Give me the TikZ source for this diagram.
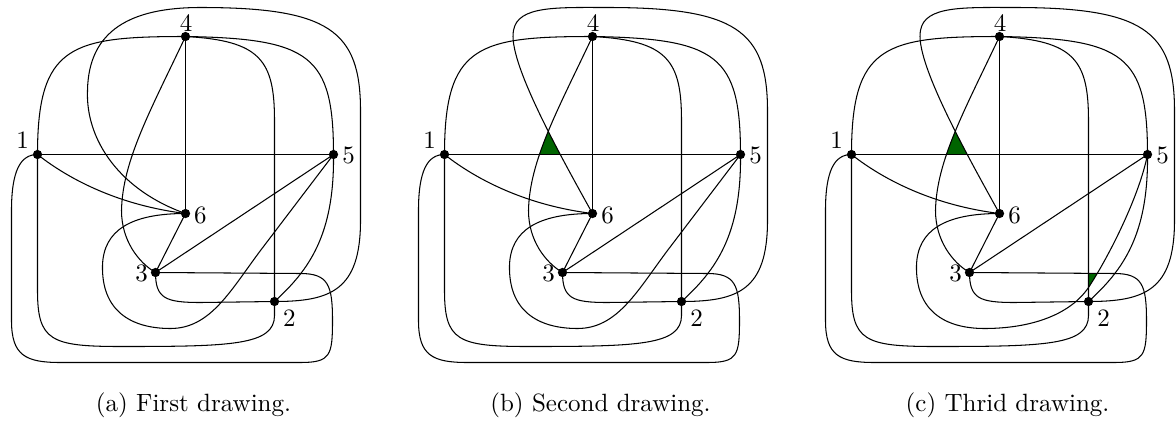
\documentclass[tikz,border=0pt]{standalone}
\usepackage{tikz}
\definecolor{tri}{RGB}{0,100,0}
\tikzset{
  vdot/.style={circle,fill=black,inner sep=0pt,minimum size=3.7pt},
  vlab/.style={inner sep=0pt},
  gedge/.style={draw=black,line width=0.42pt},
  subcap/.style={anchor=base,inner sep=0pt},
}
% nodes of one drawing, prefix #1
\newcommand{\gnodes}[1]{%
  \node[vdot] (#1-1) at (37,154) {};
  \node[vdot] (#1-4) at (185,36) {};
  \node[vdot] (#1-5) at (333,154) {};
  \node[vdot] (#1-6) at (185,213) {};
  \node[vdot] (#1-3) at (155,272) {};
  \node[vdot] (#1-2) at (274,301) {};
  \node[vlab] (#1-l1) at (22,140) {1};
  \node[vlab] (#1-l4) at (185.5,23) {4};
  \node[vlab] (#1-l5) at (348,155) {5};
  \node[vlab] (#1-l6) at (200,215) {6};
  \node[vlab] (#1-l3) at (141,273) {3};
  \node[vlab] (#1-l2) at (289,318) {2};
}
% edges common to all drawings
\newcommand{\gcommon}[1]{%
  \draw[gedge] (#1-1.center) -- (#1-5.center);
  \draw[gedge] (#1-1.center) .. controls (37,45) and (70,36) .. (#1-4.center);
  \draw[gedge] (#1-1.center) .. controls (70,180) and (120,205) .. (#1-6.center);
  \draw[gedge] (#1-1.center) -- (37,290) .. controls (37,340) and (50,346) .. (120,346)
     .. controls (230,346) and (274,345) .. (274,315) -- (#1-2.center);
  \draw[gedge] (#1-1.center) .. controls (20,154) and (11,170) .. (11,210) -- (11,320)
     .. controls (11,355) and (25,362) .. (60,362) -- (300,362)
     .. controls (330,362) and (332,355) .. (332,320)
     .. controls (332,285) and (328,273) .. (300,273) -- (#1-3.center);
  \draw[gedge] (#1-4.center) -- (#1-6.center);
  \draw[gedge] (#1-4.center) .. controls (310,38) and (333,55) .. (#1-5.center);
  \draw[gedge] (#1-4.center) .. controls (260,40) and (274,60) .. (274,120) -- (#1-2.center);
  \draw[gedge] (#1-4.center) .. controls (150,110) and (122,160) .. (121,210)
     .. controls (121,240) and (138,262) .. (#1-3.center);
  \draw[gedge] (#1-6.center) -- (#1-3.center);
  \draw[gedge] (#1-5.center) -- (#1-3.center);
  \draw[gedge] (#1-5.center) .. controls (334,235) and (308,270) .. (#1-2.center);
  \draw[gedge] (#1-3.center) .. controls (155,298) and (165,302) .. (200,302) -- (#1-2.center);
}
\newcommand{\gsixfiveA}[1]{%
  \draw[gedge] (#1-6.center) .. controls (130,213) and (103,230) .. (102,265)
     .. controls (101,310) and (130,328) .. (170,328)
     .. controls (210,328) and (230,290) .. (260,250) -- (#1-5.center);
}
\newcommand{\gsixtwoB}[1]{%
  \draw[gedge] (#1-6.center) .. controls (150,150) and (100,60) .. (106,30)
     .. controls (110,5) and (150,7) .. (200,7)
     .. controls (328,7) and (360,30) .. (360,110) -- (360,220)
     .. controls (360,290) and (330,301) .. (#1-2.center);
}
\begin{document}
\begin{tikzpicture}[x=0.4pt,y=-0.4pt]
\useasboundingbox (0,0) rectangle (1176,421);
\begin{scope}[shift={(0.5,0.5)}]
% ---------- (a)
\begin{scope}
  \gnodes{a}
  \gcommon{a}
  \gsixfiveA{a}
  \draw[gedge] (a-6.center) .. controls (120,190) and (85,140) .. (87,90)
     .. controls (88,30) and (130,7) .. (200,7)
     .. controls (328,7) and (360,30) .. (360,110) -- (360,220)
     .. controls (360,290) and (330,301) .. (a-2.center);
  \node[subcap] (capa) at (193,411) {(a) First drawing.};
\end{scope}
% ---------- (b)
\begin{scope}[shift={(407,0)}]
  \begin{scope}
    \clip (185,36) .. controls (150,110) and (122,160) .. (121,210) -- (250,210) -- (250,36) -- cycle;
    \clip (185,213) .. controls (150,150) and (100,60) .. (106,30) -- (0,30) -- (0,213) -- cycle;
    \fill[tri] (0,60) rectangle (250,154);
  \end{scope}
  \gnodes{b}
  \gcommon{b}
  \gsixfiveA{b}
  \gsixtwoB{b}
  \node[subcap] (capb) at (193,411) {(b) Second drawing.};
\end{scope}
% ---------- (c)
\begin{scope}[shift={(814,0)}]
  \begin{scope}
    \clip (185,36) .. controls (150,110) and (122,160) .. (121,210) -- (250,210) -- (250,36) -- cycle;
    \clip (185,213) .. controls (150,150) and (100,60) .. (106,30) -- (0,30) -- (0,213) -- cycle;
    \fill[tri] (0,60) rectangle (250,154);
  \end{scope}
  \begin{scope}
    \clip (274,287) .. controls (295,255) and (325,195) .. (333,154) -- (200,154) -- (200,287) -- cycle;
    \fill[tri] (274,273) rectangle (300,300);
  \end{scope}
  \gnodes{c}
  \gcommon{c}
  \gsixtwoB{c}
  \draw[gedge] (c-6.center) .. controls (130,213) and (103,230) .. (102,265)
     .. controls (101,310) and (130,328) .. (170,328)
     .. controls (215,328) and (255,315) .. (274,287)
     .. controls (295,255) and (325,195) .. (c-5.center);
  \node[subcap] (capc) at (193,411) {(c) Thrid drawing.};
\end{scope}
\end{scope}
\end{tikzpicture}
\end{document}
